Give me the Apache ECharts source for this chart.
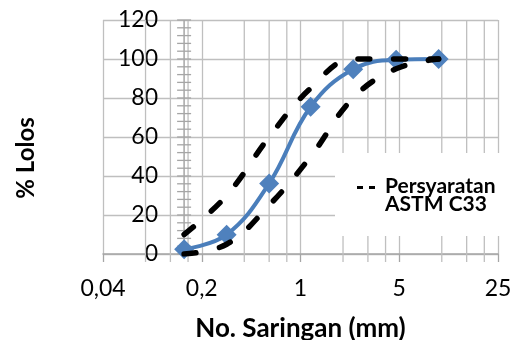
<!DOCTYPE html>
<html><head><meta charset="utf-8">
<script src="https://cdn.jsdelivr.net/npm/echarts@6/dist/echarts.min.js"></script>
<style>html,body{margin:0;padding:0;background:#fff}#c{width:516px;height:340px}</style>
</head><body><div id="c"></div>
<script>
// ---- data ----
const sieveSizes = [0.15, 0.3, 0.6, 1.18, 2.36, 4.75, 9.5];
const passing    = [2.5, 9.9, 36.2, 75.5, 94.8, 99.6, 100];
const astmUpper  = [10, 30, 60, 85, 100, 100, 100];
const astmLower  = [0, 5, 25, 50, 80, 95, 100];
const xMajorTicks = [0.04, 0.2, 1, 5, 25];
const xMinorTicks = [0.08, 0.12, 0.16, 0.4, 0.6, 0.8, 2, 3, 4, 10, 15, 20];
const yTickLabels = [0, 20, 40, 60, 80, 100, 120];
const yMinorStep = 4;
const yAxisCrossAt = 0.15;
const legendName = 'Persyaratan ASTM C33';
const xTitle = 'No. Saringan (mm)';
const yTitle = '% Lolos';

// ---- build ----
const FONT = 'Lato';
const GRID = '#bfbfbf';
const AXIS = '#a6a6a6';
const yMin = yTickLabels[0], yMax = yTickLabels[yTickLabels.length - 1];
const yMinorVals = [];
for (let v = yMin; v <= yMax; v += yMinorStep) yMinorVals.push(v);

const pairs = (xs, ys) => xs.map((x, i) => [x, ys[i]]);

const chart = echarts.init(document.getElementById('c'));
chart.setOption({
  backgroundColor: '#fff',
  animation: false,
  grid: { left: 103, right: 18, top: 20, bottom: 86, containLabel: false, outerBoundsMode: 'none' },
  xAxis: {
    type: 'log', logBase: 5,
    min: xMajorTicks[0], max: xMajorTicks[xMajorTicks.length - 1],
    splitNumber: xMajorTicks.length - 1,
    name: xTitle, nameLocation: 'middle', nameGap: 62,
    nameTextStyle: { fontFamily: FONT, fontWeight: 'bold', fontSize: 26, color: '#000' },
    axisLine: { show: true, lineStyle: { color: AXIS, width: 1.5 } },
    axisTick: { show: true, length: 8, lineStyle: { color: AXIS, width: 1.3 } },
    axisLabel: { margin: 23, fontFamily: FONT, fontSize: 23, color: '#000',
      formatter: v => String(+(+v).toPrecision(6)).replace('.', ',') },
    splitLine: { show: true, lineStyle: { color: GRID, width: 1.3 } },
    minorTick: { show: false }
  },
  yAxis: {
    type: 'value', min: yMin, max: yMax, interval: yTickLabels[1] - yTickLabels[0],
    name: yTitle, nameLocation: 'middle', nameGap: 65,
    nameTextStyle: { fontFamily: FONT, fontWeight: 'bold', fontSize: 24, color: '#000', padding: [0, 42, 0, 0] },
    axisLine: { show: false }, axisTick: { show: false },
    axisLabel: { inside: true, margin: 55, align: 'right', fontFamily: FONT, fontSize: 23, color: '#000' },
    splitLine: { show: true, lineStyle: { color: GRID, width: 1.3 } }
  },
  legend: {
    data: [{ name: legendName, icon: 'path://M0,0H6V3H0ZM12,0H18V3H12ZM17.99,18.99H18V19H17.99Z' }],
    left: 335, top: 153,
    padding: [23, 8, 21, 22],
    backgroundColor: '#fff',
    itemWidth: 18, itemHeight: 19,
    itemStyle: { color: '#000' },
    formatter: n => n.replace(' ', '\n'),
    textStyle: { fontFamily: FONT, fontWeight: 'bold', fontSize: 21, lineHeight: 18, color: '#000', padding: [0, 0, 0, 5] }
  },
  series: [
    {
      type: 'custom', silent: true, clip: false, z: 1,
      data: xMinorTicks.map(x => [x, yMin]),
      renderItem: (p, api) => {
        const x = api.value(0);
        const a = api.coord([x, yMax]), b = api.coord([x, yMin]);
        return { type: 'line', shape: { x1: a[0], y1: a[1], x2: b[0], y2: b[1] + 8 },
                 style: { stroke: GRID, lineWidth: 1.3 } };
      }
    },
    {
      type: 'custom', silent: true, clip: false, z: 1,
      data: yMinorVals.map(v => [yAxisCrossAt, v]),
      renderItem: (p, api) => {
        const c = api.coord([api.value(0), api.value(1)]);
        const children = [{ type: 'line', shape: { x1: c[0] - 7, y1: c[1], x2: c[0] + 7, y2: c[1] },
                            style: { stroke: AXIS, lineWidth: 1.3 } }];
        if (p.dataIndex === 0) {
          const t = api.coord([api.value(0), yMax]);
          children.push({ type: 'line', shape: { x1: c[0], y1: c[1], x2: t[0], y2: t[1] },
                          style: { stroke: AXIS, lineWidth: 1.5 } });
        }
        return { type: 'group', children };
      }
    },
    {
      name: 'Lolos', type: 'line', z: 2, smooth: 0.4,
      data: pairs(sieveSizes, passing),
      symbol: 'diamond', symbolSize: 20,
      lineStyle: { color: '#4a7ebb', width: 4 },
      itemStyle: { color: '#4f81bd' }
    },
    {
      name: legendName, type: 'line', z: 3, smooth: 0.4,
      data: pairs(sieveSizes, astmUpper), symbol: 'none',
      lineStyle: { color: '#000', width: 5.5, type: [12, 24], cap: 'round' },
      itemStyle: { color: '#000' }
    },
    {
      name: legendName, type: 'line', z: 3, smooth: 0.4,
      data: pairs(sieveSizes, astmLower), symbol: 'none',
      lineStyle: { color: '#000', width: 5.5, type: [12, 24], cap: 'round' },
      itemStyle: { color: '#000' }
    }
  ]
});
</script></body></html>
